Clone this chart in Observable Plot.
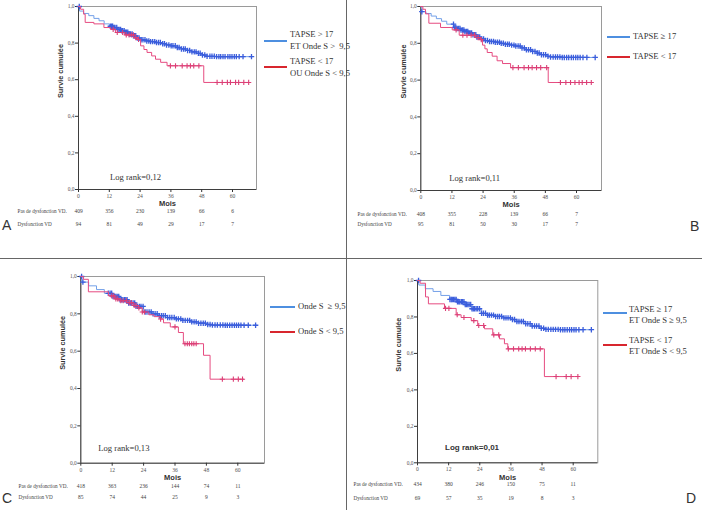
<!DOCTYPE html>
<html><head><meta charset="utf-8">
<script src="https://cdn.jsdelivr.net/npm/d3@7"></script>
<script src="https://cdn.jsdelivr.net/npm/@observablehq/plot@0.6"></script>
<style>
body{margin:0;background:#fff;}
#root{position:relative;width:702px;height:510px;overflow:hidden;background:#fff;}
.panel{position:absolute;}
.lg{position:absolute;font-family:"Liberation Serif",serif;font-size:8.6px;color:#333;line-height:11.4px;white-space:pre;z-index:2}
.sw{position:absolute;height:2px;z-index:2}
.letter{position:absolute;font-family:"Liberation Sans",Arial,sans-serif;font-size:14px;color:#333;line-height:14px}
.lr{position:absolute;font-family:"Liberation Serif",serif;font-size:8.6px;color:#333;white-space:nowrap;line-height:12px}
.rule{position:absolute;background:#666}
</style></head><body><div id="root"></div>
<script>
// ---------- shared ticks ----------
const xTicks = [0, 12, 24, 36, 48, 60];
const yTicks = [0, 0.2, 0.4, 0.6, 0.8, 1.0];
const rowLabels = ["Pas de dysfonction VD.", "Dysfonction VD"];

// ---------- Panel A ----------
const blueA = [[0,1],[0.4,0.975],[2,0.962],[4,0.95],[6,0.935],[8,0.922],[10,0.905],[12,0.892],[13.5,0.885],[15,0.875],[16.5,0.868],[18,0.86],[19.5,0.85],[21,0.84],[22.5,0.828],[24,0.818],[26,0.812],[28,0.808],[30,0.803],[32,0.797],[34,0.79],[36,0.785],[38,0.776],[40,0.768],[42,0.76],[44,0.752],[46,0.744],[48,0.735],[49.5,0.728],[53,0.726],[67.7,0.726]];
const redA = [[0,1],[0.8,0.985],[2,0.958],[2.6,0.913],[6,0.905],[9.9,0.885],[12.5,0.875],[14.4,0.858],[18,0.845],[21.5,0.83],[23,0.82],[24.2,0.785],[25.5,0.765],[26.7,0.749],[28.5,0.73],[30,0.712],[32,0.695],[34.5,0.676],[48.8,0.585],[66.4,0.585]];
const blueCensA = [0.3,12.4,12.9,13.3,13.8,14.2,14.9,15.3,15.8,16.4,16.9,17.2,17.8,18.3,18.7,19.2,19.8,20.3,20.9,21.4,21.8,22.3,22.9,23.6,24.4,25.1,25.9,26.6,27.4,28.1,28.9,29.7,30.4,31.2,31.9,32.8,33.5,34.3,35.2,36.1,36.8,37.7,38.5,39.2,40.1,40.9,41.6,42.5,43.3,44.2,45.1,45.8,46.7,47.4,48.3,49.2,50.1,51.2,52.0,52.9,53.8,54.7,55.4,56.3,57.1,58.2,59.0,59.8,60.7,61.5,62.6,64.1,67.4];
const redCensA = [13.5,15.1,17.2,18.6,19.7,20.6,21.4,22.3,23.4,35.8,37.8,40.4,42.3,43.6,44.9,46.9,54,56,58,59.2,61.2,62.4,64.4,66.3];
const riskNoA = [409, 356, 230, 139, 66, 6];
const riskYesA = [94, 81, 49, 29, 17, 7];
const legendA = ["TAPSE > 17\nET Onde S >  9,5", "TAPSE < 17\nOU Onde S < 9,5"];
const logrankA = "Log rank=0,12";

// ---------- Panel B ----------
const blueB = [[0,1],[0.4,0.972],[2,0.962],[4,0.948],[6,0.934],[8,0.92],[10,0.904],[12.7,0.886],[14,0.88],[15.5,0.872],[17,0.864],[18.5,0.856],[20,0.846],[21.5,0.834],[23,0.824],[24.5,0.815],[26.5,0.81],[28.5,0.806],[30.5,0.8],[32.5,0.795],[34.5,0.79],[36.5,0.785],[38.5,0.775],[40.5,0.765],[42.5,0.756],[44.5,0.747],[46.5,0.738],[48.5,0.73],[50,0.726],[54,0.723],[67.3,0.723]];
const redB = [[0,1],[0.8,0.985],[1.8,0.96],[3.1,0.909],[7.6,0.886],[12.1,0.873],[14.8,0.844],[21.2,0.831],[23.1,0.82],[23.8,0.79],[24.7,0.77],[25.6,0.75],[27.5,0.73],[29.4,0.705],[31.5,0.69],[34.6,0.668],[49.1,0.587],[65.7,0.587]];
const blueCensB = [0.4,12.6,13.1,13.5,14.0,14.6,15.1,15.5,16.1,16.6,17.0,17.6,18.1,18.5,19.0,19.6,20.1,20.7,21.2,21.6,22.1,22.7,23.4,24.2,24.9,25.7,26.5,27.2,28.0,28.7,29.5,30.3,31.0,31.8,32.6,33.4,34.1,35.0,35.9,36.6,37.5,38.3,39.0,39.9,40.7,41.5,42.3,43.1,44.0,44.9,45.6,46.5,47.3,48.1,49.0,50.0,51.0,51.9,52.7,53.6,54.5,55.3,56.2,57.0,58.0,58.8,59.7,60.5,61.4,62.5,64.0,67.2];
const redCensB = [13.6,16.2,17.8,19.4,20.7,22.1,23.3,35.5,37.6,39.8,41.5,42.9,44.6,46.2,48.5,53.8,55.9,57.7,59.4,61,62.2,63.9,65.7];
const riskNoB = [408, 355, 228, 139, 66, 7];
const riskYesB = [95, 81, 50, 30, 17, 7];
const legendB = ["TAPSE ≥ 17", "TAPSE < 17"];
const logrankB = "Log rank=0,11";

// ---------- Panel C ----------
const blueC = [[0,1],[0.4,0.97],[3,0.95],[6,0.93],[9,0.91],[12,0.893],[15,0.876],[18,0.858],[21,0.84],[24,0.81],[27,0.8],[30,0.79],[33,0.78],[36,0.773],[39,0.765],[42,0.757],[45,0.75],[48,0.743],[50,0.74],[55,0.739],[67.2,0.739]];
const redC = [[0,1],[1,0.985],[2.9,0.918],[10.6,0.896],[13,0.88],[15,0.87],[17.5,0.86],[20,0.845],[22,0.832],[23.5,0.81],[26,0.795],[28,0.785],[30.3,0.772],[31.6,0.752],[34.2,0.73],[37.3,0.70],[39.2,0.64],[46.9,0.578],[49.4,0.45],[62.3,0.45]];
const blueCensC = [0.3,0.8,10.5,11.2,11.8,12.3,12.9,13.4,13.9,14.5,15.0,15.6,16.1,16.7,17.2,17.7,18.3,18.9,19.4,20.0,20.6,21.1,21.7,22.4,23.0,23.8,24.6,25.3,26.1,26.9,27.6,28.4,29.2,30.0,30.8,31.5,32.3,33.2,34.0,34.8,35.7,36.5,37.3,38.2,39.0,39.9,40.8,41.6,42.4,43.3,44.1,45.0,45.9,46.8,47.6,48.5,49.4,50.3,51.3,52.2,53.3,54.3,55.2,56.0,56.9,57.8,58.7,59.5,60.3,61.2,62.4,64.0,66.8];
const redCensC = [11.8,12.6,13.4,14.1,15.3,16.2,17.4,18.5,19.3,20.4,21.1,22.2,23.5,24.3,30.5,36.0,39.8,40.7,41.5,42.4,43.2,44.1,54.1,58.3,60.2,61.8];
const riskNoC = [418, 363, 236, 144, 74, 11];
const riskYesC = [85, 74, 44, 25, 9, 3];
const legendC = ["Onde S  ≥ 9,5", "Onde S < 9,5"];
const logrankC = "Log rank=0,13";

// ---------- Panel D ----------
const blueD = [[0,1],[0.5,0.975],[3,0.955],[6,0.94],[9,0.918],[12.4,0.896],[15,0.883],[18,0.868],[21,0.845],[24.5,0.82],[27,0.81],[30,0.803],[33,0.795],[36,0.786],[38,0.775],[41,0.763],[44,0.75],[47,0.738],[49,0.732],[55,0.73],[67,0.73]];
const redD = [[0,1],[1,0.985],[3.1,0.91],[4.2,0.872],[10.4,0.847],[14.9,0.812],[16.8,0.797],[20.7,0.78],[23.2,0.753],[25.8,0.735],[29,0.702],[31.6,0.68],[33.5,0.653],[34.8,0.625],[48.9,0.473],[61.8,0.473]];
const blueCensD = [0.4,12.5,13.0,13.4,13.9,14.4,14.9,15.4,15.9,16.3,16.9,17.4,17.9,18.4,18.9,19.4,19.9,20.5,21.0,21.5,22.0,22.6,23.2,23.9,24.7,25.4,26.2,27.0,27.7,28.5,29.3,30.1,30.9,31.6,32.4,33.3,34.1,34.9,35.8,36.6,37.4,38.3,39.1,40.0,40.8,41.7,42.5,43.4,44.2,45.1,45.9,46.8,47.7,48.6,49.5,50.4,51.4,52.3,53.2,54.2,55.1,56.0,56.8,57.7,58.6,59.4,60.3,61.1,62.2,63.8,67.0];
const redCensD = [10.8,12.1,15.3,17.9,21.7,23.6,25.5,29.4,31.3,35,37,39,40.3,41.6,43.5,45.4,47.3,53.4,57.3,59.2,61.8];
const riskNoD = [434, 380, 246, 150, 75, 11];
const riskYesD = [69, 57, 35, 19, 8, 3];
const legendD = ["TAPSE ≥ 17\nET Onde S ≥ 9,5", "TAPSE < 17\nET Onde S < 9,5"];
const logrankD = "Log rank=0,01";

const letters = ["A", "B", "C", "D"];

// ---------- colours ----------
const BLUE_LINE = "#74a0e8", BLUE_MARK = "#3a5ddc";
const RED_LINE = "#e64b80", RED_MARK = "#dc3f76";
const SW_BLUE = "#4d8fe0", SW_RED = "#d8262e";

function survAt(steps, t) {
  let v = steps[0][1];
  for (const [tt, s] of steps) if (tt <= t) v = s;
  return v;
}

// layout per panel (positions only)
const panels = [
  {box:[0,0,346,258], fL:78, fR:256, x60:232, y1:6, y0:189, rows:[23,36], mois:16, ylab:-18, rowDx:-61,
   blue:blueA, red:redA, bc:blueCensA, rc:redCensA, r1:riskNoA, r2:riskYesA, legend:legendA, lr:logrankA,
   lrPos:[110,176.7], lrBold:false, letterPos:[2,218],
   lg:{x1:264,x2:287,tx:290,by:41,bt:35,ry:67,rt:62}},
  {box:[347,0,355,258], fL:420.3, fR:601, x60:576, y1:6, y0:190, rows:[25,35.5], mois:16, ylab:-17.6, rowDx:-63.3,
   blue:blueB, red:redB, bc:blueCensB, rc:redCensB, r1:riskNoB, r2:riskYesB, legend:legendB, lr:logrankB,
   lrPos:[449.3,178.3], lrBold:false, letterPos:[690,219],
   lg:{x1:607,x2:630,tx:633,by:37,bt:36.5,ry:57,rt:57}},
  {box:[0,259,346,251], fL:80.3, fR:264, x60:237.3, y1:276, y0:462.7, rows:[24.3,35.3], mois:16.3, ylab:-18.6, rowDx:-62.3,
   blue:blueC, red:redC, bc:blueCensC, rc:redCensC, r1:riskNoC, r2:riskYesC, legend:legendC, lr:logrankC,
   lrPos:[98.3,447.7], lrBold:false, letterPos:[2,491],
   lg:{x1:270,x2:295,tx:298,by:307,bt:307,ry:332,rt:331.5}},
  {box:[347,259,355,251], fL:417, fR:597.3, x60:572.7, y1:280, y0:462.3, rows:[22.7,36.7], mois:16.7, ylab:-18.7, rowDx:-64,
   blue:blueD, red:redD, bc:blueCensD, rc:redCensD, r1:riskNoD, r2:riskYesD, legend:legendD, lr:logrankD,
   lrPos:[445,448.3], lrBold:true, letterPos:[686,491],
   lg:{x1:603,x2:627,tx:629,by:313,bt:309.3,ry:345,rt:340.7}}
];

const root = document.getElementById("root");
const SERIF = "Liberation Serif, serif";
const SANS = "Liberation Sans, Arial, sans-serif";

panels.forEach((p, k) => {
  const [bx, by, bw, bh] = p.box;
  const xMax = 60 * (p.fR - p.fL) / (p.x60 - p.fL);
  const chart = Plot.plot({
    width: bw, height: bh,
    marginLeft: p.fL - bx, marginRight: bx + bw - p.fR,
    marginTop: p.y1 - by, marginBottom: by + bh - p.y0,
    x: {domain: [0, xMax]},
    y: {domain: [0, 1]},
    style: {fontFamily: SERIF, fontSize: "6px", color: "#333", background: "transparent"},
    marks: [
      Plot.frame({stroke: "#9a9a9a", strokeWidth: 1}),
      Plot.ruleX([0], {stroke: "#333", strokeWidth: 0.9}),
      Plot.ruleY([0], {stroke: "#333", strokeWidth: 0.9}),
      Plot.axisX({ticks: xTicks, tickSize: 3, tickPadding: 1.5, fontSize: 5.6, label: null, fill: "#555"}),
      Plot.axisY({ticks: yTicks, tickFormat: d => d.toFixed(1).replace(".", ","), tickSize: 3, tickPadding: 1, fontSize: 5.4, label: null, fill: "#555"}),
      Plot.line(p.blue, {x: d => d[0], y: d => d[1], curve: "step-after", stroke: BLUE_LINE, strokeWidth: 1}),
      Plot.dot(p.bc, {x: t => t, y: t => survAt(p.blue, t), symbol: "plus", r: 1.9, stroke: BLUE_MARK, strokeWidth: 1.3}),
      Plot.line(p.red, {x: d => d[0], y: d => d[1], curve: "step-after", stroke: RED_LINE, strokeWidth: 1}),
      Plot.dot(p.rc, {x: t => t, y: t => survAt(p.red, t), symbol: "plus", r: 1.8, stroke: RED_MARK, strokeWidth: 1.1}),
      Plot.text(["Mois"], {text: d => d, frameAnchor: "bottom", dy: p.mois, fontFamily: SANS, fontWeight: "bold", fontSize: 7.5, fill: "#333"}),
      Plot.text(["Survie cumulée"], {text: d => d, frameAnchor: "left", dx: p.ylab, rotate: -90, fontFamily: SANS, fontWeight: "bold", fontSize: 7.3, fill: "#333"}),
      Plot.text(p.r1, {x: (d, i) => xTicks[i], text: d => String(d), frameAnchor: "bottom", dy: p.rows[0], fontSize: 5.5, fill: "#444"}),
      Plot.text(p.r2, {x: (d, i) => xTicks[i], text: d => String(d), frameAnchor: "bottom", dy: p.rows[1], fontSize: 5.5, fill: "#444"}),
      Plot.text([rowLabels[0]], {text: d => d, frameAnchor: "bottom-left", dx: p.rowDx, dy: p.rows[0], textAnchor: "start", fontSize: 5.2, fill: "#444"}),
      Plot.text([rowLabels[1]], {text: d => d, frameAnchor: "bottom-left", dx: p.rowDx, dy: p.rows[1], textAnchor: "start", fontSize: 5.2, fill: "#444"})
    ]
  });
  const wrap = document.createElement("div");
  wrap.className = "panel";
  wrap.style.left = bx + "px"; wrap.style.top = by + "px";
  wrap.appendChild(chart);
  root.appendChild(wrap);

  // legend
  const L = p.lg;
  const sw = (y, c) => {
    const d = document.createElement("div");
    d.className = "sw";
    d.style.left = L.x1 + "px"; d.style.width = (L.x2 - L.x1) + "px";
    d.style.top = Math.round(y - 1) + "px"; d.style.background = c;
    root.appendChild(d);
  };
  const lt = (txt, yc) => {
    const d = document.createElement("div");
    d.className = "lg";
    d.textContent = txt;
    d.style.left = L.tx + "px";
    d.style.top = (yc - 5.7) + "px";
    root.appendChild(d);
  };
  sw(L.by, SW_BLUE); lt(p.legend[0], L.bt);
  sw(L.ry, SW_RED); lt(p.legend[1], L.rt);

  // log rank
  const lr = document.createElement("div");
  lr.className = "lr";
  lr.textContent = p.lr;
  lr.style.left = p.lrPos[0] + "px";
  lr.style.top = (p.lrPos[1] - 6) + "px";
  if (p.lrBold) { lr.style.fontFamily = SANS; lr.style.fontWeight = "bold"; lr.style.fontSize = "8px"; }
  root.appendChild(lr);

  // letter
  const le = document.createElement("div");
  le.className = "letter";
  le.textContent = letters[k];
  le.style.left = p.letterPos[0] + "px";
  le.style.top = p.letterPos[1] + "px";
  root.appendChild(le);
});

// dividers
const rules = [[0, 258, 702, 1], [345.5, 0, 1, 510]];
rules.forEach(([x, y, w, h]) => {
  const d = document.createElement("div");
  d.className = "rule";
  Object.assign(d.style, {left: x + "px", top: y + "px", width: w + "px", height: h + "px"});
  root.appendChild(d);
});
</script></body></html>
